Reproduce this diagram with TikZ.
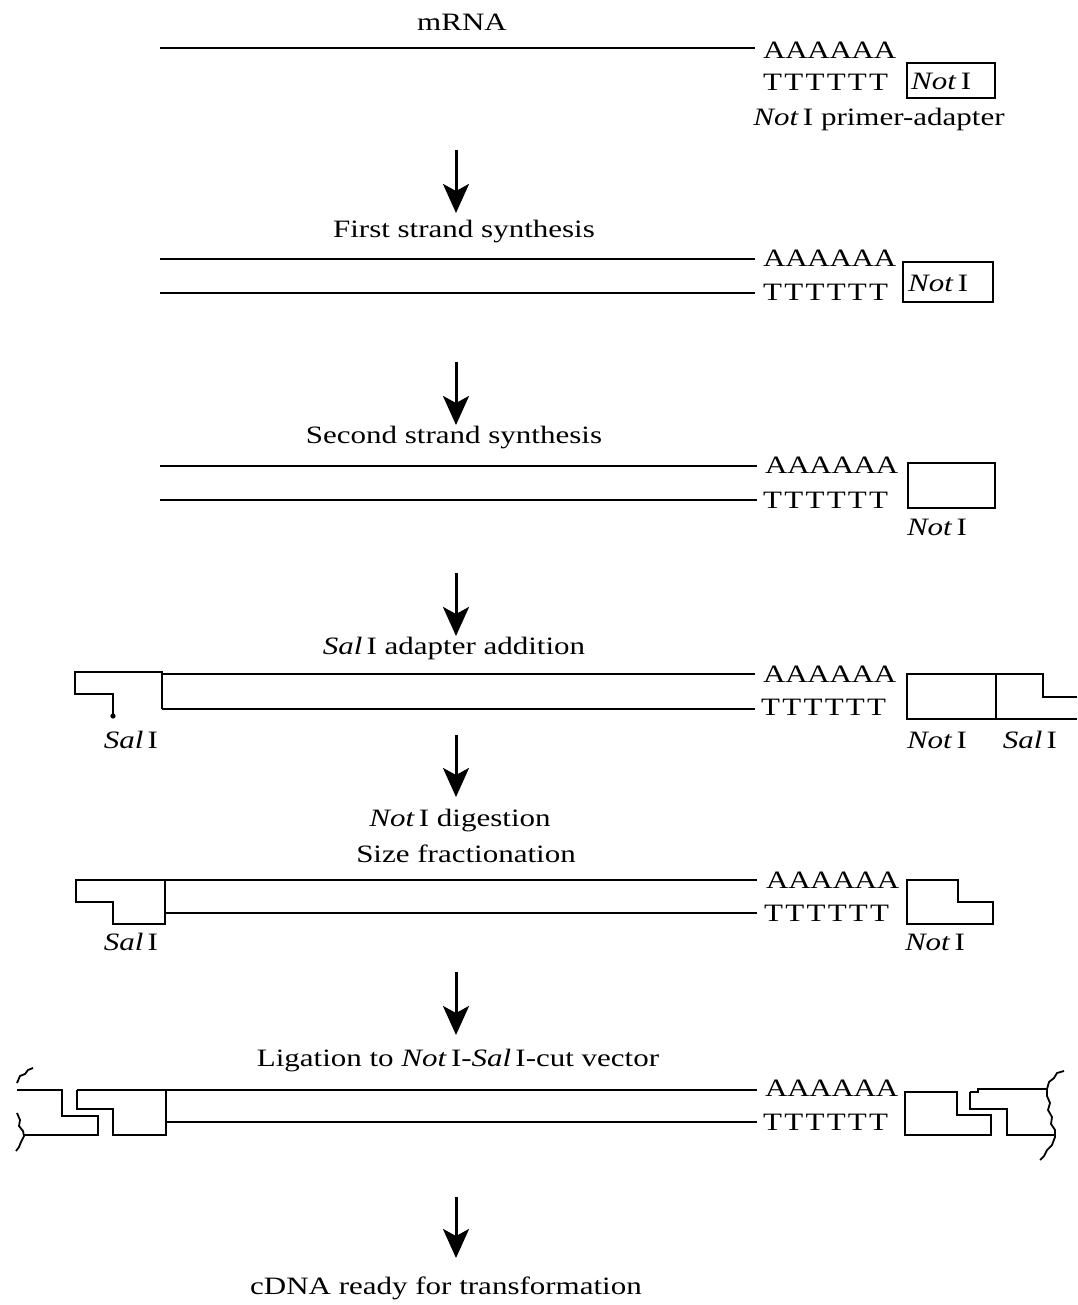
\documentclass[tikz,border=0pt]{standalone}
\usepackage{fontspec}
\setmainfont{Liberation Serif}[FakeStretch=1.24]
\usetikzlibrary{arrows.meta}
\begin{document}
\begin{tikzpicture}[x=1pt,y=-1pt,
  strand/.style={line width=2.8pt, line join=miter},
  lbl/.style={inner sep=0pt, font=\fontsize{25}{30}\selectfont},
  seq/.style={lbl, anchor=west},
  flow/.style={line width=3pt,-{Stealth[length=29pt,width=26pt,inset=7pt]}},
  wavy/.style={line width=1.8pt}]
\newcommand{\polyT}{{\addfontfeature{LetterSpace=9}TTTTTT}}
\newcommand{\polyA}{{\addfontfeature{LetterSpace=-1}AAAAAA}}
\useasboundingbox (0,0) rectangle (1077,1305);

% ---------- step 1: mRNA + primer-adapter
\node[lbl] (mrna) at (462,22) {mRNA};
\draw[strand] (160,48) -- (755,48);
\node[seq] (a1) at (763,50) {\polyA};
\node[seq] (t1) at (763,82) {\polyT};
\draw[strand] (907,63) rectangle (995,98);
\node[seq] (n1) at (911,81) {\textit{Not}\,I};
\node[lbl] (pa) at (879,119) {\textit{Not}\,I primer-adapter};

\coordinate (f1s) at (456,150); \coordinate (f1e) at (456,213);
\draw[flow] (f1s) -- (f1e);

% ---------- step 2: first strand synthesis
\node[lbl] (l2) at (464,232) {First strand synthesis};
\draw[strand] (160,259) -- (755,259);
\draw[strand] (160,293) -- (755,293);
\node[seq] (a2) at (763,258) {\polyA};
\node[seq] (t2) at (763,292) {\polyT};
\draw[strand] (903,262) rectangle (993,302);
\node[seq] (n2) at (908,283) {\textit{Not}\,I};

\coordinate (f2s) at (456,362); \coordinate (f2e) at (456,425);
\draw[flow] (f2s) -- (f2e);

% ---------- step 3: second strand synthesis
\node[lbl] (l3) at (454,438) {Second strand synthesis};
\draw[strand] (160,466) -- (757,466);
\draw[strand] (160,500) -- (757,500);
\node[seq] (a3) at (765,465) {\polyA};
\node[seq] (t3) at (763,500) {\polyT};
\draw[strand] (908,463) rectangle (995,508);
\node[lbl] (n3) at (937,527) {\textit{Not}\,I};

\coordinate (f3s) at (456,573); \coordinate (f3e) at (456,636);
\draw[flow] (f3s) -- (f3e);

% ---------- step 4: Sal I adapter addition
\node[lbl] (l4) at (454,648) {\textit{Sal}\,I adapter addition};
\draw[strand] (162,674) -- (755,674);
\draw[strand] (162,709) -- (755,709);
\node[seq] (a4) at (763,674) {\polyA};
\node[seq] (t4) at (761,707) {\polyT};
\draw[strand] (113,716) -- (113,694) -- (75,694) -- (75,672) -- (162,672) -- (162,709);
\fill (113,716) circle (2.6pt);
\node[lbl] (s4l) at (131,740) {\textit{Sal}\,I};
\draw[strand] (907,674) rectangle (996,719);
\draw[strand] (996,674) -- (1043,674) -- (1043,697) -- (1077,697);
\draw[strand] (996,719) -- (1077,719);
\node[lbl] (n4) at (937,740) {\textit{Not}\,I};
\node[lbl] (s4r) at (1030,740) {\textit{Sal}\,I};

\coordinate (f4s) at (456,735); \coordinate (f4e) at (456,797);
\draw[flow] (f4s) -- (f4e);

% ---------- step 5: Not I digestion / size fractionation
\node[lbl] (l5a) at (460,821) {\textit{Not}\,I digestion};
\node[lbl] (l5b) at (466,854) {Size fractionation};
\draw[strand] (165,913) -- (757,913);
\draw[strand] (165,880) -- (165,924) -- (113,924) -- (113,902) -- (76,902) -- (76,880) -- (757,880);
\node[seq] (a5) at (766,880) {\polyA};
\node[seq] (t5) at (764,913) {\polyT};
\draw[strand] (907,880) -- (958,880) -- (958,902) -- (993,902) -- (993,924) -- (907,924) -- cycle;
\node[lbl] (s5) at (131,942) {\textit{Sal}\,I};
\node[lbl] (n5) at (935,942) {\textit{Not}\,I};

\coordinate (f5s) at (456,972); \coordinate (f5e) at (456,1035);
\draw[flow] (f5s) -- (f5e);

% ---------- step 6: ligation to vector
\node[lbl] (l6) at (458,1061) {Ligation to \textit{Not}\,I-\textit{Sal}\,I-cut vector};
\draw[strand] (77,1090) -- (757,1090);
\draw[strand] (166,1122) -- (757,1122);
\draw[strand] (77,1090) -- (77,1109) -- (113,1109) -- (113,1135) -- (166,1135) -- (166,1090);
\draw[strand] (17,1090) -- (62,1090) -- (62,1116) -- (98,1116) -- (98,1135) -- (23,1135);
\draw[wavy] (17,1083) -- (20,1076) -- (25,1074) -- (28,1070) -- (33,1068);
\draw[wavy] (17,1113) -- (20,1120) -- (19,1126) -- (23,1131) -- (24,1136) -- (21,1142) -- (19,1147) -- (16,1151);
\node[seq] (a6) at (765,1088) {\polyA};
\node[seq] (t6) at (763,1122) {\polyT};
\draw[strand] (905,1092) -- (957,1092) -- (957,1115) -- (991,1115) -- (991,1135) -- (905,1135) -- cycle;
\draw[strand] (970,1092) -- (970,1109) -- (1007,1109) -- (1007,1135) -- (1055,1135);
\draw[strand] (970,1092) -- (978,1092) -- (978,1089) -- (1047,1089);
\draw[wavy] (1047,1089) -- (1049,1082) -- (1054,1078) -- (1057,1073) -- (1064,1071);
\draw[wavy] (1047,1089) -- (1047,1096) -- (1050,1103) -- (1048,1110) -- (1052,1117) -- (1051,1124) -- (1055,1130) -- (1055,1137) -- (1052,1145) -- (1047,1150) -- (1044,1156) -- (1040,1160);

\coordinate (f6s) at (456,1197); \coordinate (f6e) at (456,1258);
\draw[flow] (f6s) -- (f6e);

% ---------- step 7
\node[lbl] (l7) at (446,1288) {cDNA ready for transformation};
\end{tikzpicture}
\end{document}
